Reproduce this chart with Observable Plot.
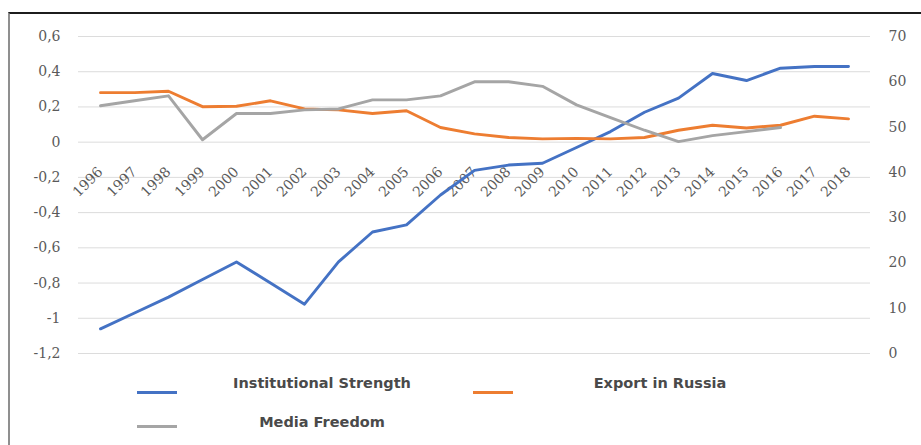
<!DOCTYPE html>
<html>
<head>
<meta charset="utf-8">
<script src="https://cdn.jsdelivr.net/npm/d3@7"></script>
<script src="https://cdn.jsdelivr.net/npm/@observablehq/plot@0.6"></script>
<style>
  html, body { margin: 0; padding: 0; background: #fff; }
  #wrap { position: relative; width: 921px; height: 445px; overflow: hidden; }
  #frame { position: absolute; left: 8px; top: 12px; width: 913px; height: 440px;
           border-top: 2px solid #1c1c1c; border-left: 2px solid #8f8f8f; box-sizing: border-box; pointer-events: none; }
  .lg-line { position: absolute; height: 3px; width: 40px; }
  .lg-text { position: absolute; font-family: "DejaVu Sans", sans-serif; font-weight: bold; font-size: 14.5px;
             color: #4a4a4a; line-height: 16px; white-space: nowrap; transform: translateX(-50%); }
  #chart svg { display: block; }
</style>
</head>
<body>
<div id="wrap">
  <div id="chart"></div>
  <div id="legend"></div>
  <div id="frame"></div>
</div>
<script>
// ---- data ----
const years = [1996,1997,1998,1999,2000,2001,2002,2003,2004,2005,2006,2007,2008,2009,2010,2011,2012,2013,2014,2015,2016,2017,2018];
const institutional = [-1.06,-0.97,-0.88,-0.78,-0.68,-0.80,-0.92,-0.68,-0.51,-0.47,-0.30,-0.16,-0.13,-0.12,-0.03,0.06,0.17,0.25,0.39,0.35,0.42,0.43,0.43];
const exportRussia = [57.6,57.6,57.9,54.5,54.6,55.8,54.0,53.8,53.0,53.6,49.9,48.5,47.7,47.4,47.5,47.4,47.7,49.3,50.4,49.8,50.4,52.4,51.8];
const mediaFreedom = [54.7,55.8,56.9,47.2,53.0,53.0,53.8,54.0,56.0,56.0,56.9,60.0,60.0,59.0,54.9,52.1,49.3,46.8,48.1,49.0,49.9];
const leftTicks = [0.6,0.4,0.2,0,-0.2,-0.4,-0.6,-0.8,-1,-1.2];
const rightTicks = [70,60,50,40,30,20,10,0];
const seriesNames = ["Institutional Strength","Export in Russia","Media Freedom"];
const seriesColors = ["#4472C4","#ED7D31","#A5A5A5"];

// secondary axis (0..70) mapped onto primary axis (-1.2..0.6)
const leftDomain = [-1.2, 0.6];
const rightDomain = [0, 70];
const toLeft = r => leftDomain[0] + (r - rightDomain[0]) / (rightDomain[1] - rightDomain[0]) * (leftDomain[1] - leftDomain[0]);
const toRight = l => rightDomain[0] + (l - leftDomain[0]) / (leftDomain[1] - leftDomain[0]) * (rightDomain[1] - rightDomain[0]);

const instData = institutional.map((v, i) => ({year: years[i], v}));
const expData = exportRussia.map((v, i) => ({year: years[i], v: toLeft(v)}));
const medData = mediaFreedom.map((v, i) => ({year: years[i], v: toLeft(v)}));

const fmtLeft = d => String(Math.round(d * 10) / 10).replace(".", ",");
const fmtRight = d => String(Math.round(toRight(d)));

// category axis crosses at 0; rotated labels hang just under it
const xLabelY = -0.155;

const lineOpts = {x: "year", y: "v", strokeWidth: 2.9, strokeLinejoin: "round", strokeLinecap: "round"};

const chart = Plot.plot({
  width: 921,
  height: 445,
  marginLeft: 78,
  marginRight: 51,
  marginTop: 36,
  marginBottom: 92,
  style: {fontFamily: "'DejaVu Serif', serif", fontSize: "14px", color: "#5a5a5a", background: "transparent"},
  x: {type: "point", domain: years, padding: 0.5, axis: null},
  y: {domain: leftDomain, axis: null},
  marks: [
    Plot.ruleY(leftTicks, {stroke: "#dcdcdc", strokeWidth: 1}),
    Plot.axisY(leftTicks, {anchor: "left", label: null, tickSize: 0, tickPadding: 18, tickFormat: fmtLeft}),
    Plot.axisY(rightTicks.map(toLeft), {anchor: "right", label: null, tickSize: 0, tickPadding: 18, tickFormat: fmtRight}),
    Plot.text(years, {x: d => d, y: () => xLabelY, text: d => String(d), rotate: -45, textAnchor: "end", lineAnchor: "middle", fill: "#5a5a5a"}),
    Plot.line(instData, {...lineOpts, stroke: seriesColors[0]}),
    Plot.line(expData, {...lineOpts, stroke: seriesColors[1]}),
    Plot.line(medData, {...lineOpts, stroke: seriesColors[2]})
  ]
});
document.getElementById("chart").appendChild(chart);

// legend (Excel-style, inside the chart frame)
const legendItems = [
  {name: seriesNames[0], color: seriesColors[0], lx: 137, ly: 391, tx: 322, ty: 375},
  {name: seriesNames[1], color: seriesColors[1], lx: 473, ly: 391, tx: 660, ty: 375},
  {name: seriesNames[2], color: seriesColors[2], lx: 137, ly: 425, tx: 322, ty: 414}
];
const lg = document.getElementById("legend");
for (const it of legendItems) {
  const l = document.createElement("div");
  l.className = "lg-line";
  l.style.left = it.lx + "px"; l.style.top = it.ly + "px"; l.style.background = it.color;
  lg.appendChild(l);
  const t = document.createElement("div");
  t.className = "lg-text";
  t.style.left = it.tx + "px"; t.style.top = it.ty + "px";
  t.textContent = it.name;
  lg.appendChild(t);
}
</script>
</body>
</html>
